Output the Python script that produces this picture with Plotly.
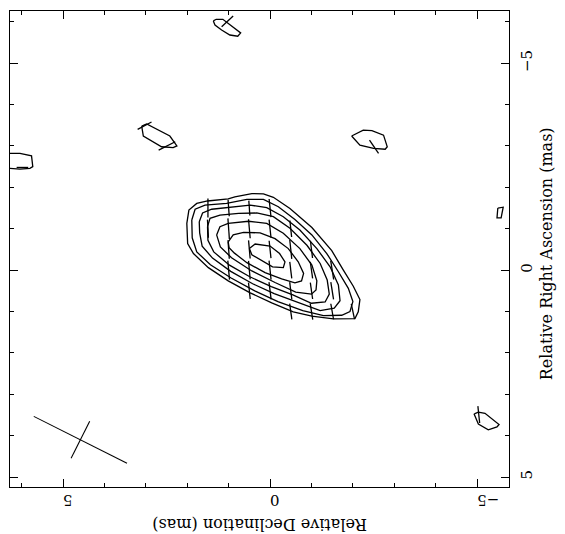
import numpy as np
import plotly.graph_objects as go

# ---------------- data (mas) ----------------
# contour polylines: Relative Declination (x) , Relative Right Ascension (y)
C1_DEC = [2.01, 1.96, 1.77, 1.51, 1.01, 0.85, 0.44, 0.16, -0.08, -0.48, -1.01, -1.49, -1.77, -2.01, -2.17, -2.13, -2.05, -1.53, -1.01, -0.56, -0.04, 0.48, 1.01, 1.49, 1.85, 1.99]
C1_RA = [-1.13, -1.45, -1.61, -1.67, -1.72, -1.77, -1.85, -1.84, -1.76, -1.49, -1.03, -0.47, 0.00, 0.39, 0.71, 1.01, 1.17, 1.18, 1.11, 1.01, 0.79, 0.55, 0.26, -0.06, -0.40, -0.64]

C2_DEC = [1.89, 1.81, 1.57, 1.05, 0.56, 0.16, -0.20, -0.60, -1.01, -1.37, -1.65, -1.89, -2.00, -1.93, -1.73, -1.29, -0.79, -0.19, 0.37, 0.94, 1.44, 1.77, 1.88]
C2_RA = [-1.21, -1.47, -1.57, -1.61, -1.71, -1.71, -1.53, -1.22, -0.85, -0.40, 0.04, 0.44, 0.76, 1.00, 1.09, 1.10, 0.98, 0.76, 0.50, 0.19, -0.13, -0.44, -0.78]

C3_DEC = [1.71, 1.63, 1.41, 0.97, 0.48, 0.08, -0.32, -0.72, -1.13, -1.45, -1.65, -1.69, -1.55, -1.21, -0.70, -0.10, 0.42, 0.95, 1.39, 1.64, 1.70]
C3_RA = [-1.17, -1.38, -1.47, -1.51, -1.57, -1.51, -1.29, -0.97, -0.52, -0.08, 0.36, 0.74, 0.92, 0.98, 0.79, 0.57, 0.33, 0.03, -0.29, -0.58, -0.90]

C4_DEC = [1.51, 1.45, 1.21, 0.76, 0.32, -0.08, -0.48, -0.89, -1.21, -1.38, -1.43, -1.33, -1.00, -0.55, -0.03, 0.49, 0.98, 1.36, 1.50]
C4_RA = [-1.05, -1.25, -1.33, -1.37, -1.38, -1.29, -1.01, -0.60, -0.16, 0.24, 0.58, 0.77, 0.80, 0.60, 0.40, 0.16, -0.12, -0.44, -0.72]

C5_DEC = [1.29, 1.21, 1.01, 0.52, 0.08, -0.32, -0.72, -1.01, -1.13, -1.11, -1.00, -0.62, -0.12, 0.44, 0.93, 1.20]
C5_RA = [-0.85, -1.05, -1.13, -1.18, -1.13, -0.89, -0.52, -0.12, 0.26, 0.48, 0.58, 0.53, 0.30, 0.02, -0.30, -0.56]

C6_DEC = [1.01, 0.89, 0.64, 0.24, -0.12, -0.44, -0.68, -0.81, -0.76, -0.60, -0.28, 0.12, 0.56, 0.86, 0.99]
C6_RA = [-0.68, -0.85, -0.91, -0.90, -0.76, -0.52, -0.20, 0.08, 0.26, 0.31, 0.21, 0.06, -0.18, -0.41, -0.54]

C7_DEC = [0.50, 0.36, 0.00, -0.23, -0.36, -0.32, -0.06, 0.20, 0.44]
C7_RA = [-0.52, -0.63, -0.58, -0.40, -0.20, -0.06, -0.08, -0.22, -0.37]

# noise contours
N1_DEC = [1.37, 1.30, 1.14, 0.89, 0.71, 0.78, 0.97, 1.17, 1.33]
N1_RA = [-6.02, -6.06, -6.06, -5.88, -5.73, -5.65, -5.68, -5.80, -5.92]
N2_DEC = [6.60, 6.04, 5.76, 5.73, 5.80, 6.04, 6.60]
N2_RA = [-2.82, -2.82, -2.76, -2.50, -2.46, -2.44, -2.48]
N3_DEC = [3.10, 2.98, 2.42, 2.25, 2.34, 2.62, 3.06]
N3_RA = [-3.48, -3.53, -3.24, -3.00, -2.96, -2.98, -3.24]
N4_DEC = [-1.97, -2.25, -2.46, -2.74, -2.83, -2.78, -2.50, -2.17]
N4_RA = [-3.24, -3.38, -3.37, -3.26, -2.98, -2.92, -2.94, -3.02]
N5_DEC = [-4.96, -5.03, -5.19, -5.53, -5.48, -5.27, -5.03, -4.93]
N5_RA = [3.46, 3.43, 3.46, 3.73, 3.79, 3.86, 3.72, 3.48]
N6_DEC = [-5.50, -5.63, -5.58, -5.48]
N6_RA = [-1.50, -1.52, -1.26, -1.26]

# polarisation vectors: centre, length (mas), angle (deg)
VEC_DEC = [1.5, 1.5,
           1.0, 1.0, 1.0, 1.0,
           0.5, 0.5, 0.5, 0.5, 0.5,
           0.0, 0.0, 0.0, 0.0, 0.0,
           -0.5, -0.5, -0.5, -0.5, -0.5,
           -1.0, -1.0, -1.0, -1.0,
           -1.5, -1.5, -1.5,
           -2.0,
           1.03, 5.98, 3.03, 2.49, -2.51, -5.04]
VEC_RA = [-1.5, -1.0,
          -1.5, -1.0, -0.5, 0.0,
          -1.5, -1.0, -0.5, 0.0, 0.5,
          -1.5, -1.0, -0.5, 0.0, 0.5,
          -1.0, -0.5, 0.0, 0.5, 1.0,
          -0.5, 0.0, 0.5, 1.0,
          0.0, 0.5, 1.0,
          1.0,
          -6.01, -2.48, -3.49, -3.00, -2.98, 3.49]
VEC_LEN = [0.46, 0.44,
           0.40, 0.50, 0.45, 0.46,
           0.36, 0.46, 0.44, 0.45, 0.40,
           0.44, 0.44, 0.42, 0.46, 0.42,
           0.40, 0.46, 0.40, 0.42, 0.38,
           0.42, 0.40, 0.40, 0.40,
           0.46, 0.42, 0.38,
           0.38,
           0.38, 0.28, 0.38, 0.45, 0.39, 0.41]
VEC_ANG = [0, -3,
           -4, -4, -4, -5,
           -4, -5, -5, -5, -6,
           -6, -6, -6, -6, -7,
           -6, -6, -7, -7, -8,
           -7, -8, -8, -9,
           -9, -9, -10,
           -12,
           47, 90, 62, 63, -34, -6]

# restoring beam
BEAM_DEC, BEAM_RA = 4.58, 4.10
BEAM_MAJ, BEAM_MIN, BEAM_ANG = 2.52, 1.00, -63.3

TICK_VALS = [5, 0, -5]
TICK_TEXT = ["5", "0", "\u22125"]
X_TITLE = "Relative Declination (mas)"
Y_TITLE = "Relative Right Ascension (mas)"

# ---------------- figure ----------------
FONT = "DejaVu Serif"
fig = go.Figure()

def closed(a):
    return list(a) + [a[0]]

contours = [(C1_DEC, C1_RA), (C2_DEC, C2_RA), (C3_DEC, C3_RA), (C4_DEC, C4_RA),
            (C5_DEC, C5_RA), (C6_DEC, C6_RA), (C7_DEC, C7_RA),
            (N1_DEC, N1_RA), (N2_DEC, N2_RA), (N3_DEC, N3_RA), (N4_DEC, N4_RA),
            (N5_DEC, N5_RA), (N6_DEC, N6_RA)]
for d, r in contours:
    fig.add_trace(go.Scatter(x=closed(d), y=closed(r), mode="lines",
                             line=dict(color="black", width=1.3),
                             hoverinfo="skip", showlegend=False))

def segments(dec, ra, length, ang):
    xs, ys = [], []
    for d, r, L, a in zip(dec, ra, length, ang):
        t = np.deg2rad(a)
        dd, dr = 0.5 * L * np.sin(t), 0.5 * L * np.cos(t)
        xs += [d - dd, d + dd, None]
        ys += [r - dr, r + dr, None]
    return xs, ys

vx, vy = segments(VEC_DEC, VEC_RA, VEC_LEN, VEC_ANG)
fig.add_trace(go.Scatter(x=vx, y=vy, mode="lines",
                         line=dict(color="black", width=1.3),
                         hoverinfo="skip", showlegend=False))

bx, by = segments([BEAM_DEC, BEAM_DEC], [BEAM_RA, BEAM_RA],
                  [BEAM_MAJ, BEAM_MIN], [BEAM_ANG, BEAM_ANG + 90])
fig.add_trace(go.Scatter(x=bx, y=by, mode="lines",
                         line=dict(color="black", width=1.1),
                         hoverinfo="skip", showlegend=False))

axis_common = dict(
    showgrid=False, zeroline=False, showline=True, linecolor="black",
    linewidth=1.2, mirror="ticks", ticks="inside", ticklen=8, tickwidth=1,
    tickcolor="black", tickmode="array", tickvals=TICK_VALS, ticktext=TICK_TEXT,
    tickfont=dict(family=FONT, size=15, color="black"),
    minor=dict(dtick=1, tick0=0, ticks="inside", ticklen=4, tickwidth=1,
               tickcolor="black", showgrid=False),
)

fig.update_xaxes(range=[6.28, -5.77], tickangle=180, ticklabelstandoff=4,
                 **axis_common)
fig.update_yaxes(range=[5.24, -6.26], side="right", tickangle=-90,
                 ticklabelstandoff=4, **axis_common)

fig.update_layout(
    width=565, height=534, autosize=False,
    margin=dict(l=10, r=56, t=11, b=47),
    paper_bgcolor="white", plot_bgcolor="white",
    annotations=[
        dict(text=X_TITLE, textangle=180, xref="paper", yref="paper",
             x=0.5, y=-0.08, xanchor="center", yanchor="middle",
             showarrow=False, font=dict(family=FONT, size=16, color="black")),
        dict(text=Y_TITLE, textangle=-90, xref="paper", yref="paper",
             x=1.075, y=0.49, xanchor="center", yanchor="middle",
             showarrow=False, font=dict(family=FONT, size=16, color="black")),
    ],
)

fig.write_html("out.html")
